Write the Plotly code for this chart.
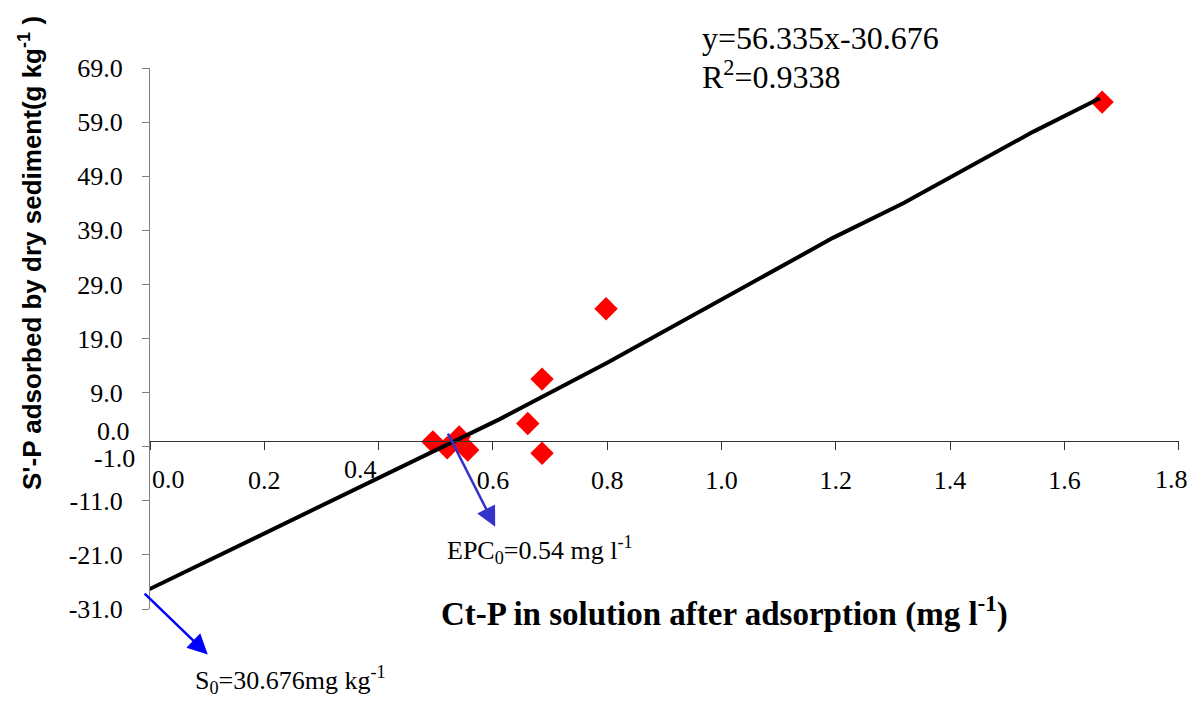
import plotly.graph_objects as go

# ---- data ----
pts_x = [0.495, 0.520, 0.541, 0.556, 0.661, 0.686, 0.686, 0.798, 1.666]
pts_y = [-0.1, -1.2, 0.8, -1.6, 3.3, -2.2, 11.5, 24.5, 62.7]

line_x = [-0.012, 0.612, 0.800, 0.968, 1.195, 1.318, 1.545, 1.662]
line_y = [-27.9, 4.1, 14.5, 24.3, 37.6, 44.0, 57.2, 63.4]

y_ticks = [-31, -21, -11, -1, 9, 19, 29, 39, 49, 59, 69]
y_ticktext = ["-31.0", "-21.0", "-11.0", "", "9.0", "19.0", "29.0", "39.0", "49.0", "59.0", "69.0"]
x_ticks = [0.0, 0.2, 0.4, 0.6, 0.8, 1.0, 1.2, 1.4, 1.6, 1.8]
x_ticktext = ["", "0.2", "", "0.6", "0.8", "1.0", "1.2", "1.4", "1.6", ""]

# arrows: (tail_x, tail_y) -> (tip_x, tip_y)
epc_arrow = [0.520, 1.7, 0.604, -15.8]
s0_arrow = [-0.012, -27.9, 0.101, -39.4]

Y_MIN, Y_MAX = -31, 69
X_MIN, X_MAX = 0, 1.8

serif = "Liberation Serif"
sans = "Liberation Sans"

fig = go.Figure()
fig.add_trace(go.Scatter(
    x=pts_x, y=pts_y, mode="markers",
    marker=dict(symbol="diamond", size=18, color="#ff0000", line=dict(width=0)),
    showlegend=False, cliponaxis=False))
fig.add_trace(go.Scatter(
    x=line_x, y=line_y, mode="lines",
    line=dict(color="#000000", width=4),
    showlegend=False, cliponaxis=False))

ann = []
# arrows
ann.append(dict(x=epc_arrow[2], y=epc_arrow[3], ax=epc_arrow[0], ay=epc_arrow[1],
                xref="x", yref="y", axref="x", ayref="y", text="", showarrow=True,
                arrowhead=2, arrowsize=1.6, arrowwidth=2.5, arrowcolor="#3333cc"))
ann.append(dict(x=s0_arrow[2], y=s0_arrow[3], ax=s0_arrow[0], ay=s0_arrow[1],
                xref="x", yref="y", axref="x", ayref="y", text="", showarrow=True,
                arrowhead=2, arrowsize=1.6, arrowwidth=2.5, arrowcolor="#0000ff"))

tick_font = dict(family=serif, size=26, color="black")
# special tick labels
ann.append(dict(x=0, y=0, xref="paper", yref="y", text="0.0", showarrow=False,
                xanchor="right", yanchor="middle", xshift=-18, yshift=10,
                font=tick_font))
ann.append(dict(x=0, y=-1, xref="paper", yref="y", text="-1.0", showarrow=False,
                xanchor="right", yanchor="middle", xshift=-13, yshift=-12,
                font=tick_font))
ann.append(dict(x=0.0, y=0, xref="x", yref="y", text="0.0", showarrow=False,
                xanchor="center", yanchor="middle", xshift=18, yshift=-38,
                font=tick_font))
ann.append(dict(x=0.4, y=0, xref="x", yref="y", text="0.4", showarrow=False,
                xanchor="center", yanchor="middle", xshift=-18, yshift=-28,
                font=tick_font))
ann.append(dict(x=1.8, y=0, xref="x", yref="y", text="1.8", showarrow=False,
                xanchor="center", yanchor="middle", xshift=-7, yshift=-38,
                font=tick_font))

# texts
ann.append(dict(x=0.5345, y=1.0555, xref="paper", yref="paper", text="y=56.335x-30.676",
                showarrow=False, xanchor="left", yanchor="middle",
                font=dict(family=serif, size=32, color="black")))
ann.append(dict(x=0.5345, y=0.987, xref="paper", yref="paper", text="R<sup>2</sup>=0.9338",
                showarrow=False, xanchor="left", yanchor="middle",
                font=dict(family=serif, size=32, color="black")))
ann.append(dict(x=0.2867, y=0.109, xref="paper", yref="paper",
                text="EPC<sub>0</sub>=0.54 mg l<sup>-1</sup>",
                showarrow=False, xanchor="left", yanchor="middle",
                font=dict(family=serif, size=26, color="black")))
ann.append(dict(x=0.0418, y=-0.132, xref="paper", yref="paper",
                text="S<sub>0</sub>=30.676mg kg<sup>-1</sup>",
                showarrow=False, xanchor="left", yanchor="middle",
                font=dict(family=serif, size=26, color="black")))
ann.append(dict(x=0.5585, y=-0.0055, xref="paper", yref="paper",
                text="<b>Ct-P in solution after adsorption (mg l<sup>-1</sup>)</b>",
                showarrow=False, xanchor="center", yanchor="middle",
                font=dict(family=serif, size=33, color="black")))
ann.append(dict(x=-0.1166, y=0.658, xref="paper", yref="paper",
                text="<b>S'-P adsorbed by dry sediment(g kg<sup>-1</sup> )</b>",
                showarrow=False, xanchor="center", yanchor="middle", textangle=-90,
                font=dict(family=sans, size=26, color="black")))

fig.update_layout(
    width=1194, height=701,
    margin=dict(l=150, r=15, t=68, b=92),
    plot_bgcolor="white", paper_bgcolor="white",
    annotations=ann,
    xaxis=dict(range=[X_MIN, X_MAX + 0.0005], tickvals=x_ticks, ticktext=x_ticktext,
               showgrid=False, zeroline=False, showline=True, linecolor="#333333",
               linewidth=1, ticks="outside", ticklen=8, tickcolor="#333333",
               anchor="free", position=(0 - Y_MIN) / (Y_MAX - Y_MIN),
               ticklabelstandoff=8, ticklabeloverflow="allow",
               tickfont=tick_font),
    yaxis=dict(range=[Y_MIN, Y_MAX], tickvals=y_ticks, ticktext=y_ticktext,
               showgrid=False, zeroline=False, showline=True, linecolor="#808080",
               linewidth=1, ticks="outside", ticklen=7, tickcolor="#808080",
               ticklabelstandoff=14,
               tickfont=tick_font),
)

fig.write_html("out.html")
